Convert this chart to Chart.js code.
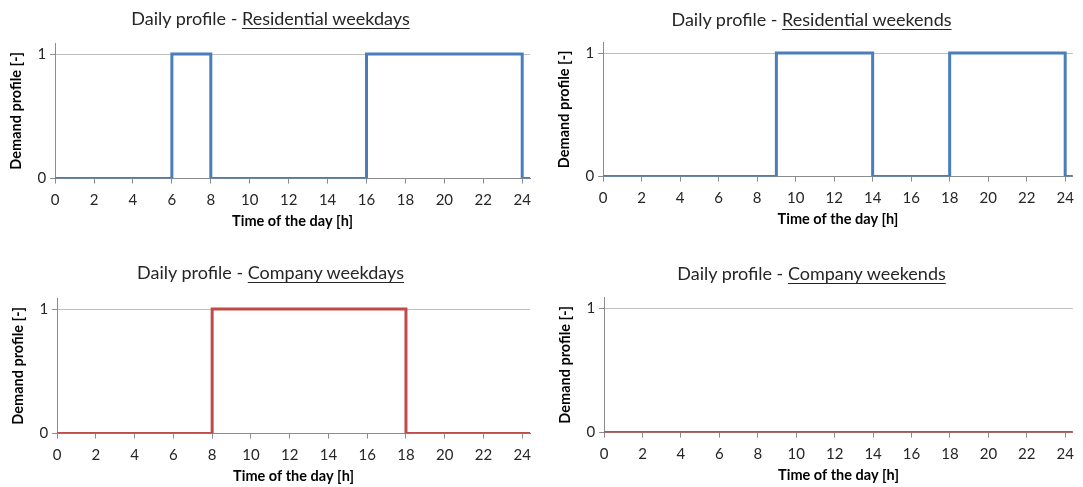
<!DOCTYPE html>
<html>
<head>
<meta charset="utf-8">
<script src="https://cdn.jsdelivr.net/npm/chart.js@4.4.1/dist/chart.umd.min.js"></script>
<style>
  html, body { margin: 0; padding: 0; background: #fff; overflow: hidden; }
  body { width: 1083px; height: 487px; position: relative; font-family: Lato, sans-serif; }
  .box { position: absolute; width: 541px; }
  .title { position: absolute; left: 0; width: 100%; text-align: center; font-size: 18px; color: #262626; white-space: nowrap; }
  .title u { text-underline-offset: 3px; text-decoration-thickness: 1px; }
  canvas { position: absolute; left: 0; top: 0; }
</style>
</head>
<body>
<div class="box" id="b1" style="left:0;top:0;height:250px">
  <canvas id="chart1"></canvas>
  <div class="title" style="top:7px">Daily profile - <u>Residential weekdays</u></div>
</div>
<div class="box" id="b2" style="left:541px;top:0;height:250px">
  <canvas id="chart2"></canvas>
  <div class="title" style="top:8px">Daily profile - <u>Residential weekends</u></div>
</div>
<div class="box" id="b3" style="left:0;top:255px;height:240px">
  <canvas id="chart3"></canvas>
  <div class="title" style="top:6px">Daily profile - <u>Company weekdays</u></div>
</div>
<div class="box" id="b4" style="left:541px;top:255px;height:240px">
  <canvas id="chart4"></canvas>
  <div class="title" style="top:7px">Daily profile - <u>Company weekends</u></div>
</div>

<script>
// step points: hour where the level changes, and the level reached there
const resWeekdayHours = [0, 6, 8, 16, 24, 24.4];
const resWeekdayDemand = [0, 1, 0, 1, 0, 0];

const resWeekendHours = [0, 9, 14, 18, 24, 24.4];
const resWeekendDemand = [0, 1, 0, 1, 0, 0];

const compWeekdayHours = [0, 8, 18, 24.4];
const compWeekdayDemand = [0, 1, 0, 0];

const compWeekendHours = [0, 24.4];
const compWeekendDemand = [0, 0];

const hourTicks = [0, 2, 4, 6, 8, 10, 12, 14, 16, 18, 20, 22, 24];
const demandTicks = [0, 1];

const blue = '#4a7ebb';
const red = '#be4b48';

function makeChart(id, hours, demand, color, pad, titleGap) {
    const ctx = document.getElementById(id).getContext('2d');
    return new Chart(ctx, {
        type: 'line',
        data: {
            datasets: [{
                data: hours.map((h, i) => ({ x: h, y: demand[i] })),
                borderColor: color,
                borderWidth: 3,
                stepped: 'before',
                pointRadius: 0,
                fill: false
            }]
        },
        options: {
            responsive: true,
            maintainAspectRatio: false,
            animation: false,
            layout: { padding: pad },
            plugins: {
                legend: { display: false },
                tooltip: { enabled: false }
            },
            scales: {
                x: {
                    type: 'linear',
                    min: 0,
                    max: 24.4,
                    afterBuildTicks: (axis) => { axis.ticks = hourTicks.map(v => ({ value: v })); },
                    grid: { drawOnChartArea: false, tickLength: 5, color: '#8c8c8c' },
                    border: { color: '#8c8c8c' },
                    ticks: { color: '#262626', font: { family: 'Lato', size: 15 }, padding: 8, maxRotation: 0 },
                    title: {
                        display: true,
                        text: 'Time of the day [h]',
                        color: '#000',
                        font: { family: 'Lato', size: 14.5, weight: 'bold' },
                        padding: { top: titleGap, bottom: 0 }
                    }
                },
                y: {
                    min: 0,
                    max: 1.089,
                    afterBuildTicks: (axis) => { axis.ticks = demandTicks.map(v => ({ value: v })); },
                    grid: { color: '#bfbfbf', tickLength: 5, tickColor: '#8c8c8c' },
                    border: { color: '#8c8c8c' },
                    ticks: { color: '#262626', font: { family: 'Lato', size: 15 }, padding: 4 },
                    title: {
                        display: true,
                        text: 'Demand profile [-]',
                        color: '#000',
                        font: { family: 'Lato', size: 14.5, weight: 'bold' },
                        padding: { top: 0, bottom: 8 }
                    }
                }
            }
        }
    });
}

makeChart('chart1', resWeekdayHours, resWeekdayDemand, blue, { top: 43, left: 8, right: 11, bottom: 20 }, -5);
makeChart('chart2', resWeekendHours, resWeekendDemand, blue, { top: 42, left: 15, right: 7, bottom: 22 }, -5);
makeChart('chart3', compWeekdayHours, compWeekdayDemand, red, { top: 43, left: 10, right: 11, bottom: 10 }, -5);
makeChart('chart4', compWeekendHours, compWeekendDemand, red, { top: 42, left: 16, right: 4, bottom: 11 }, -5);
</script>
</body>
</html>
